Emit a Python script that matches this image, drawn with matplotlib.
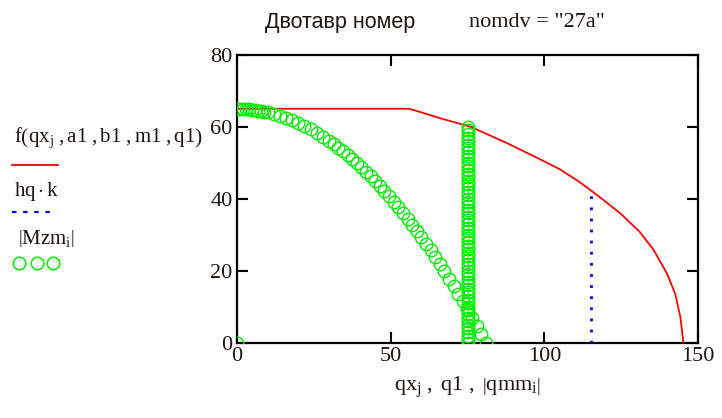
import matplotlib.pyplot as plt
from matplotlib.lines import Line2D

# red curve f(qx_j, a1, b1, m1, q1)
qx = [0, 56, 60, 66, 76, 88, 99, 105, 111, 115, 119, 125, 131, 135.5, 139.8,
      142.5, 144.2, 145.2]
f_vals = [65, 65, 64, 62.4, 60, 55.4, 50.8, 48.2, 44.9, 42.4, 39.8, 35.7, 30.8,
          25.8, 19.3, 13.7, 7.2, 0]

# blue dotted hq*k
q1 = [115, 115]
hqk = [0, 42]

# green circles |Mzm_i| vs |qmm_i|
qmm_curve = [0, 1, 2, 3, 4, 5, 6, 7, 8, 9, 10, 12, 14, 16, 18, 20, 22, 24, 26, 28, 30,
             31.5, 33, 34.5, 36, 37.5, 39, 40.5, 42, 43.5, 45, 46.5, 48, 49.5, 51, 52.5,
             54, 55.5, 57, 58.5, 60, 61.5, 63, 64.5, 66, 67.5, 69, 70.5, 72, 73.5, 75,
             76.5, 78, 79.5, 81]
mzm_curve = [65, 65, 64.96, 64.9, 64.84, 64.75, 64.64, 64.5, 64.37, 64.2, 64, 63.57,
             63.06, 62.46, 61.8, 61.04, 60.2, 59.3, 58.3, 57.23, 56.1, 55.17, 54.2, 53.2,
             52.16, 51.07, 49.93, 48.75, 47.5, 46.25, 44.94, 43.58, 42.17, 40.72, 39.23,
             37.7, 36.1, 34.5, 32.8, 31.1, 29.34, 27.5, 25.7, 23.8, 21.85, 19.86, 17.83,
             15.76, 13.64, 11.5, 9.27, 7, 4.73, 2.4, 0]
mzm_col = [0, 1, 2, 3, 4, 5, 6, 7, 8, 9, 10, 11, 12, 13, 14, 15, 16, 17, 18, 19, 20,
           21, 22, 23, 24, 25, 26, 27, 28, 29, 30, 31, 32, 33, 34, 35, 36, 37, 38, 39,
           40, 41, 42, 43, 44, 45, 46, 47, 48, 49, 50, 51, 52, 53, 54, 55, 56, 57, 58,
           59, 60]
qmm_col = [75.3] * len(mzm_col)
qmm_extra = [0]
mzm_extra = [0]

x_ticks = [0, 50, 100, 150]
y_ticks = [0, 20, 40, 60, 80]

plt.rcParams['mathtext.fontset'] = 'custom'
plt.rcParams['mathtext.rm'] = 'Liberation Serif'
plt.rcParams['mathtext.it'] = 'Liberation Serif:italic'

txt_col = '#1e1410'
green = '#00ee00'

fig = plt.figure(figsize=(7.22, 4.18), dpi=100)
ax = fig.add_axes([0.328, 0.180, 0.639, 0.689])

ax.plot(qx, f_vals, color='red', lw=1.3, zorder=3)
ax.plot(q1, hqk, color='blue', lw=2, linestyle=(0, (1, 3)), zorder=3)
mk = dict(linestyle='none', marker='o', markersize=9, markerfacecolor='none',
          markeredgecolor=green, markeredgewidth=1.0, zorder=4)
ax.plot(qmm_curve, mzm_curve, **mk)
ax.plot(qmm_col, mzm_col, **mk)
ax.plot(qmm_extra, mzm_extra, **mk)

ax.set_xlim(0, 150)
ax.set_ylim(0, 80)
ax.set_xticks(x_ticks)
ax.set_yticks(y_ticks)
ax.tick_params(direction='in', length=8, width=1.5, top=True, right=True,
               labelsize=16, colors='black', labelcolor=txt_col, pad=3)
for lab in ax.get_xticklabels() + ax.get_yticklabels():
    lab.set_fontfamily('Liberation Serif')
for sp in ax.spines.values():
    sp.set_linewidth(1.6)

ax.set_xlabel(r'$\mathrm{qx_j\ ,\ q1\ ,\ \left|qmm_i\right|}$', fontsize=16,
              color=txt_col, labelpad=6)

fig.text(0.471, 0.945, 'Двотавр номер', fontsize=15.5, family='Liberation Sans',
         ha='center', va='center', color=txt_col)
fig.text(0.744, 0.945, 'nomdv = "27a"', fontsize=16, family='Liberation Serif',
         ha='center', va='center', color=txt_col)

# legend on the left
fig.text(0.02, 0.67, r'$\mathrm{f\left(qx_j\ ,a1\ ,b1\ ,m1\ ,q1\right)}$', fontsize=15,
         ha='left', va='center', color=txt_col)
fig.add_artist(Line2D([0.017, 0.081], [0.605, 0.605], color='red', lw=1.3,
                      transform=fig.transFigure))
fig.text(0.02, 0.542, r'$\mathrm{hq\cdot k}$', fontsize=15, ha='left', va='center',
         color=txt_col)
fig.add_artist(Line2D([0.017, 0.07], [0.494, 0.494], color='blue', lw=1.6,
                      linestyle=(0, (2, 3)), transform=fig.transFigure))
fig.text(0.025, 0.43, r'$\left|\mathrm{Mzm_i}\right|$', fontsize=15, ha='left',
         va='center', color=txt_col)
fig.add_artist(Line2D([0.027, 0.051, 0.073], [0.371, 0.371, 0.371], linestyle='none',
                      marker='o', markersize=9, markerfacecolor='none',
                      markeredgecolor=green, markeredgewidth=1.1,
                      transform=fig.transFigure))

fig.savefig('out.png', dpi=100)
